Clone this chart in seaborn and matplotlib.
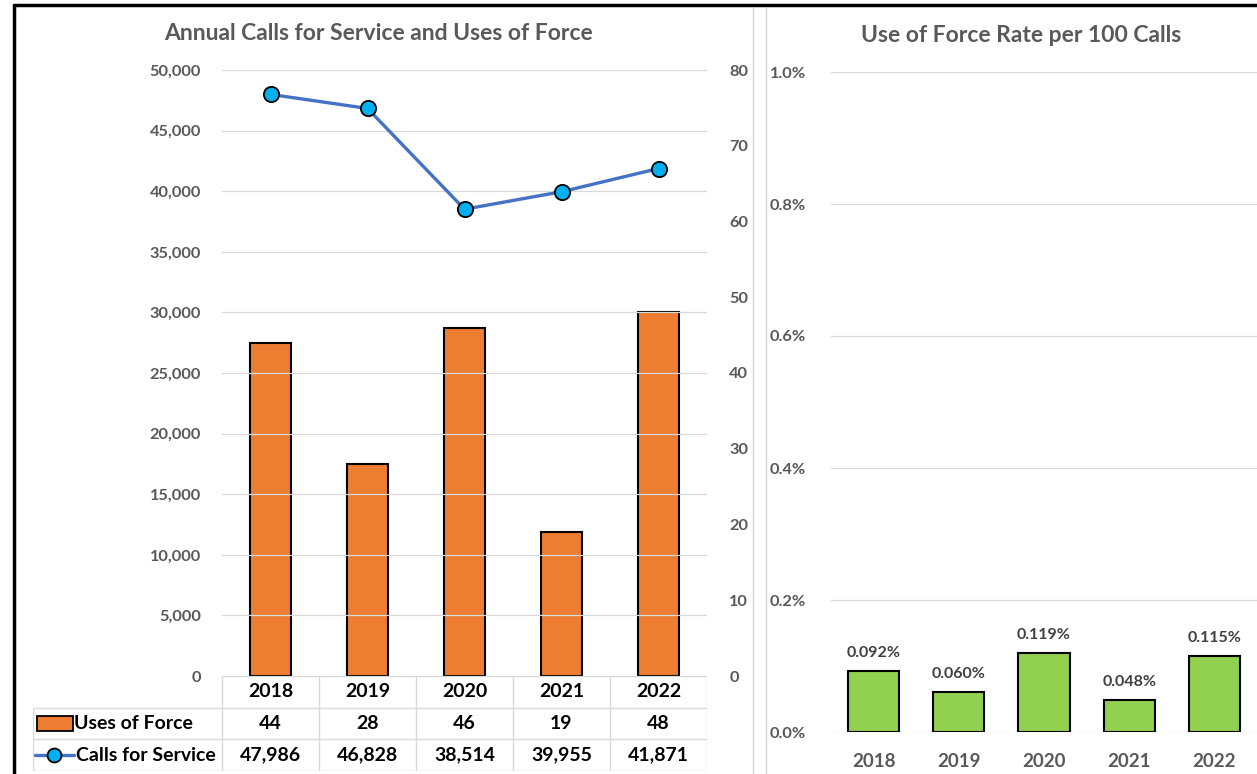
import numpy as np
import pandas as pd
import seaborn as sns
import matplotlib.pyplot as plt
from matplotlib.lines import Line2D
from matplotlib.patches import Rectangle

years = ["2018", "2019", "2020", "2021", "2022"]
uses_of_force = [44, 28, 46, 19, 48]
calls_for_service = [47986, 46828, 38514, 39955, 41871]
rate_pct = [0.092, 0.060, 0.119, 0.048, 0.115]

ORANGE = "#ED7D31"
BLUE_LINE = "#4472C4"
CYAN = "#00B0F0"
GREEN = "#92D050"
GRID = "#D9D9D9"
TXT = "#595959"

sns.set_theme(style="white")
plt.rcParams["font.family"] = ["Lato", "DejaVu Sans"]

W, H = 1257, 774
fig = plt.figure(figsize=(W / 100, H / 100), dpi=100)


def fx(px):
    return px / W


def fy(py):
    return 1 - py / H


df = pd.DataFrame({"year": years, "uof": uses_of_force,
                   "calls": calls_for_service, "rate": rate_pct})
df["pos"] = np.arange(len(years))

TICK_FS = 11.8
TABLE_FS = 14
TITLE_FS = 16.5

# ---------- left chart: calls (line, left axis) + uses of force (bars, right axis)
ax = fig.add_axes([fx(222), fy(676), fx(707) - fx(222), fy(70) - fy(676)])
ax2 = ax.twinx()

sns.barplot(data=df, x="year", y="uof", ax=ax2, color=ORANGE, width=0.42,
            edgecolor="black", linewidth=1.5, saturation=1)
sns.lineplot(data=df, x="pos", y="calls", ax=ax, color=BLUE_LINE, linewidth=2.4,
             marker="o", markersize=11, markerfacecolor=CYAN,
             markeredgecolor="black", markeredgewidth=1.3, zorder=5)

ax.set_ylim(0, 50000)
ax.set_yticks(np.arange(0, 50001, 5000))
ax.set_yticklabels([f"{v:,}" for v in range(0, 50001, 5000)])
ax2.set_ylim(0, 80)
ax2.set_yticks(np.arange(0, 81, 10))
ax.set_xlim(-0.5, 4.5)
ax2.set_xlim(-0.5, 4.5)
ax.grid(axis="y", color=GRID, linewidth=0.9)
ax.set_axisbelow(True)
for a in (ax, ax2):
    for s in a.spines.values():
        s.set_visible(False)
    a.set_xlabel("")
    a.set_ylabel("")
    a.set_xticks([])
ax.tick_params(axis="y", length=0, pad=15, labelsize=TICK_FS, labelcolor=TXT)
ax2.tick_params(axis="y", length=0, pad=16, labelsize=TICK_FS, labelcolor=TXT)
for lab in ax.get_yticklabels() + ax2.get_yticklabels():
    lab.set_fontweight("bold")
ax.set_zorder(ax2.get_zorder() + 1)
ax.patch.set_visible(False)

fig.text(fx(378), fy(33), "Annual Calls for Service and Uses of Force",
         ha="center", va="center", fontsize=TITLE_FS, fontweight="bold", color=TXT)

# ---------- data table below the left chart
tab = fig.add_axes([fx(33), fy(771), fx(707) - fx(33), fy(676) - fy(771)])
lab_w = (222 - 33) / 97.0
tab.set_xlim(-0.5 - lab_w, 4.5)
tab.set_ylim(3, 0)
tab.axis("off")
edges = np.arange(-0.5, 5.0, 1.0)
tab.vlines(edges, 0, 3, color=GRID, linewidth=1)
tab.vlines([-0.5 - lab_w], 1, 3, color=GRID, linewidth=1)
tab.hlines([0], -0.5, 4.5, color=GRID, linewidth=1)
tab.hlines([1, 2, 3], -0.5 - lab_w, 4.5, color=GRID, linewidth=1)
for i, y in enumerate(years):
    tab.text(i, 0.5, y, ha="center", va="center", fontsize=TABLE_FS,
             fontweight="bold", color="black")
    tab.text(i, 1.5, f"{uses_of_force[i]}", ha="center", va="center",
             fontsize=TABLE_FS, fontweight="bold", color="black")
    tab.text(i, 2.5, f"{calls_for_service[i]:,}", ha="center", va="center",
             fontsize=TABLE_FS, fontweight="bold", color="black")
x0 = -0.5 - lab_w
tab.add_patch(Rectangle((x0 + 0.04, 1.27), 0.37, 0.46, facecolor=ORANGE,
                        edgecolor="black", linewidth=1.3))
tab.text(x0 + 0.42, 1.5, "Uses of Force", ha="left", va="center",
         fontsize=TABLE_FS, fontweight="bold", color="black")
tab.plot([x0 + 0.02, x0 + 0.42], [2.5, 2.5], color=BLUE_LINE, linewidth=2.4)
tab.plot([x0 + 0.22], [2.5], marker="o", markersize=10, markerfacecolor=CYAN,
         markeredgecolor="black", markeredgewidth=1.3)
tab.text(x0 + 0.44, 2.5, "Calls for Service", ha="left", va="center",
         fontsize=TABLE_FS, fontweight="bold", color="black")

# ---------- right chart: rate per 100 calls
rx = fig.add_axes([fx(831), fy(732), fx(1257) - fx(831), fy(72) - fy(732)])
sns.barplot(data=df, x="year", y="rate", ax=rx, color=GREEN, width=0.6,
            edgecolor="black", linewidth=1.5, saturation=1)
rx.set_ylim(0, 1.0)
rx.set_xlim(-0.5, 4.5)
rx.set_yticks(np.arange(0, 1.01, 0.2))
rx.set_yticklabels([f"{v:.1f}%" for v in np.arange(0, 1.01, 0.2)])
rx.grid(axis="y", color=GRID, linewidth=0.9)
rx.set_axisbelow(True)
for s in rx.spines.values():
    s.set_visible(False)
rx.set_xlabel("")
rx.set_ylabel("")
rx.tick_params(axis="y", length=0, pad=18, labelsize=TICK_FS, labelcolor=TXT)
rx.tick_params(axis="x", length=0, pad=15, labelsize=13.5, labelcolor=TXT)
for lab in rx.get_yticklabels() + rx.get_xticklabels():
    lab.set_fontweight("bold")
for i, v in enumerate(rate_pct):
    rx.annotate(f"{v:.3f}%", (i, v), xytext=(0, 13), textcoords="offset points",
                ha="center", va="center", fontsize=11.5, fontweight="bold",
                color="#404040")

fig.text(fx(1021), fy(35), "Use of Force Rate per 100 Calls",
         ha="center", va="center", fontsize=TITLE_FS, fontweight="bold", color=TXT)

# ---------- panel frames
fig.add_artist(Line2D([fx(753), fx(753)], [0, fy(8)], color=GRID, linewidth=1))
fig.add_artist(Line2D([fx(766), fx(766)], [0, fy(8)], color=GRID, linewidth=1))
fig.add_artist(Line2D([fx(14), 1], [fy(5), fy(5)], color="black", linewidth=2.5))
fig.add_artist(Line2D([fx(14), fx(14)], [0, fy(5)], color="black", linewidth=2.5))

fig.savefig("out.png", dpi=100)
